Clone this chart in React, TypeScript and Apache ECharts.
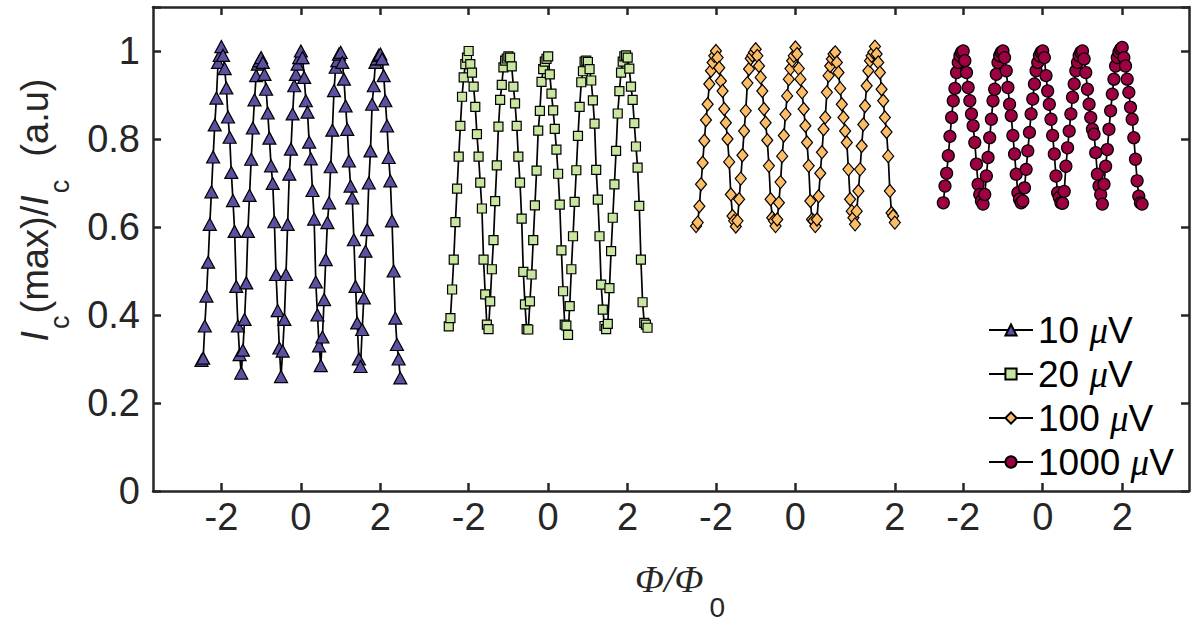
import React, { useEffect, useRef } from 'react';
import * as echarts from 'echarts';

// ---- data ----
const seriesNames = ['10 μV', '20 μV', '100 μV', '1000 μV'];
const panelOffsets = [0, 6.22, 12.44, 18.66];
const phiStart = -2.5;
const phiStep = 1 / 24;

const ic10 = [
  0.297, 0.302, 0.375, 0.443, 0.52, 0.606, 0.68, 0.759, 0.832, 0.893, 0.974, 0.99, 1.01,
  0.99, 0.96, 0.916, 0.85, 0.804, 0.724, 0.66, 0.59, 0.465, 0.375, 0.31, 0.268,
  0.32, 0.39, 0.473, 0.59, 0.672, 0.754, 0.825, 0.889, 0.944, 0.97, 0.978, 0.985,
  0.974, 0.947, 0.913, 0.859, 0.802, 0.739, 0.699, 0.612, 0.492, 0.41, 0.325, 0.26,
  0.318, 0.39, 0.492, 0.606, 0.72, 0.777, 0.857, 0.921, 0.947, 0.97, 0.985, 1.0,
  0.985, 0.94, 0.887, 0.861, 0.793, 0.755, 0.683, 0.618, 0.475, 0.4, 0.33, 0.285,
  0.35, 0.435, 0.526, 0.61, 0.655, 0.737, 0.82, 0.91, 0.963, 0.978, 0.993, 0.997,
  0.974, 0.936, 0.875, 0.822, 0.75, 0.693, 0.666, 0.571, 0.465, 0.382, 0.3, 0.283,
  0.367, 0.439, 0.545, 0.594, 0.7, 0.773, 0.879, 0.921, 0.974, 0.982, 0.99, 0.993,
  0.982, 0.944, 0.887, 0.83, 0.758, 0.705, 0.614, 0.5, 0.393, 0.333, 0.3, 0.257,
];

const ic20 = [
  0.374, 0.393, 0.458, 0.526, 0.611, 0.687, 0.76, 0.83, 0.896, 0.94, 0.97, 0.985, 1.0,
  0.97, 0.951, 0.919, 0.873, 0.811, 0.76, 0.701, 0.642, 0.526, 0.447, 0.378, 0.368,
  0.431, 0.504, 0.57, 0.659, 0.74, 0.828, 0.889, 0.923, 0.963, 0.978, 0.983, 0.988,
  0.985, 0.965, 0.919, 0.881, 0.83, 0.76, 0.701, 0.619, 0.498, 0.424, 0.368, 0.367,
  0.431, 0.492, 0.57, 0.649, 0.728, 0.819, 0.864, 0.93, 0.959, 0.976, 0.982, 0.988,
  0.947, 0.903, 0.865, 0.823, 0.776, 0.721, 0.651, 0.547, 0.454, 0.378, 0.376, 0.355,
  0.42, 0.504, 0.579, 0.657, 0.729, 0.807, 0.873, 0.929, 0.954, 0.976, 0.978, 0.975,
  0.959, 0.933, 0.888, 0.835, 0.73, 0.662, 0.579, 0.469, 0.412, 0.375, 0.368, 0.38,
  0.461, 0.545, 0.621, 0.697, 0.773, 0.858, 0.909, 0.951, 0.976, 0.988, 0.99, 0.985,
  0.96, 0.919, 0.889, 0.836, 0.783, 0.735, 0.648, 0.526, 0.429, 0.382, 0.378, 0.371,
];

const ic100 = [
  0.602, 0.61, 0.647, 0.697, 0.746, 0.796, 0.843, 0.879, 0.925, 0.955, 0.974, 0.989, 1.0,
  0.985, 0.962, 0.932, 0.909, 0.868, 0.837, 0.8, 0.748, 0.674, 0.625, 0.614, 0.601,
  0.614, 0.663, 0.71, 0.763, 0.818, 0.864, 0.927, 0.959, 0.983, 0.99, 0.997, 1.004,
  0.989, 0.966, 0.94, 0.909, 0.868, 0.837, 0.797, 0.739, 0.663, 0.621, 0.614, 0.602,
  0.617, 0.655, 0.702, 0.761, 0.808, 0.856, 0.898, 0.936, 0.96, 0.978, 0.989, 1.008,
  0.993, 0.96, 0.936, 0.906, 0.868, 0.83, 0.792, 0.739, 0.659, 0.617, 0.614, 0.602,
  0.617, 0.67, 0.722, 0.77, 0.822, 0.849, 0.906, 0.944, 0.966, 0.982, 0.993, 0.997,
  0.974, 0.951, 0.915, 0.879, 0.849, 0.818, 0.792, 0.731, 0.663, 0.636, 0.621, 0.606,
  0.636, 0.682, 0.731, 0.784, 0.833, 0.875, 0.921, 0.955, 0.978, 0.989, 0.997, 1.01,
  0.993, 0.974, 0.951, 0.913, 0.887, 0.849, 0.816, 0.761, 0.682, 0.632, 0.625, 0.61,
];

const ic1000 = [
  0.655, 0.693, 0.722, 0.762, 0.806, 0.849, 0.887, 0.915, 0.951, 0.974, 0.989, 0.997, 1.0,
  0.978, 0.951, 0.917, 0.887, 0.857, 0.83, 0.792, 0.743, 0.697, 0.674, 0.659, 0.652,
  0.674, 0.716, 0.758, 0.803, 0.845, 0.887, 0.913, 0.947, 0.974, 0.989, 0.997, 1.0,
  0.985, 0.955, 0.917, 0.879, 0.853, 0.808, 0.766, 0.72, 0.678, 0.663, 0.655, 0.659,
  0.689, 0.731, 0.773, 0.815, 0.857, 0.891, 0.925, 0.955, 0.974, 0.989, 0.997, 1.0,
  0.985, 0.944, 0.909, 0.879, 0.845, 0.808, 0.766, 0.716, 0.678, 0.667, 0.655, 0.654,
  0.681, 0.738, 0.78, 0.818, 0.857, 0.895, 0.925, 0.955, 0.974, 0.989, 0.997, 1.0,
  0.982, 0.951, 0.913, 0.879, 0.849, 0.822, 0.811, 0.769, 0.72, 0.693, 0.674, 0.652,
  0.697, 0.738, 0.776, 0.822, 0.864, 0.902, 0.936, 0.966, 0.985, 0.997, 1.004, 1.008,
  0.985, 0.966, 0.936, 0.906, 0.872, 0.845, 0.803, 0.754, 0.705, 0.67, 0.655, 0.652,
];

const seriesValues = [ic10, ic20, ic100, ic1000];

// tick positions (local flux units within each panel) and their labels
const tickLocal = [
  [-2, 0, 2],
  [-2, 0, 2],
  [-2, 0, 2.5],
  [-2, 0, 2],
];
const tickText = ['-2', '0', '2'];
const yTickLabels = ['0', '0.2', '0.4', '0.6', '0.8', '1'];

// ---- styles ----
const markerSymbols = ['triangle', 'rect', 'diamond', 'circle'];
const markerSizes: any[] = [[13, 12], [9, 9], [11, 13], [12, 12]];
const markerColors = ['#5e4fa2', '#c8e6a0', '#fdbd67', '#9e0142'];
const AX = '#262626';
const SANS = 'Liberation Sans';

export default function App() {
  const ref = useRef<HTMLDivElement>(null);

  useEffect(() => {
    if (!ref.current) return;
    const chart = echarts.init(ref.current, null, { renderer: 'svg' });

    const xMin = -3.72;
    const xMax = 22.34;
    const tickValues: number[] = [];
    const labelMap = new Map<string, string>();
    panelOffsets.forEach((o, k) => {
      tickLocal[k].forEach((t, j) => {
        const v = +(o + t).toFixed(3);
        tickValues.push(v);
        labelMap.set(v.toFixed(3), tickText[j]);
      });
    });

    const series = seriesValues.map((vals, k) => ({
      name: seriesNames[k],
      type: 'line',
      xAxisIndex: 0,
      yAxisIndex: 0,
      data: vals.map((v, i) => [panelOffsets[k] + phiStart + i * phiStep, v]),
      symbol: markerSymbols[k],
      symbolSize: markerSizes[k],
      itemStyle: { color: markerColors[k], borderColor: '#000', borderWidth: 1.2 },
      lineStyle: { color: '#000', width: 1.7 },
      emphasis: { disabled: true },
      clip: false,
    }));

    const tickLine = { color: AX, width: 2.5 };

    chart.setOption({
      animation: false,
      backgroundColor: '#fff',
      grid: { left: 153, right: 2, top: 7, bottom: 133, containLabel: false },
      xAxis: [
        {
          type: 'value',
          position: 'bottom',
          min: xMin,
          max: xMax,
          axisLine: { show: true, onZero: false, lineStyle: tickLine },
          axisTick: { show: true, inside: true, length: 8, customValues: tickValues, lineStyle: tickLine },
          axisLabel: {
            show: true,
            customValues: tickValues,
            formatter: (v: number) => labelMap.get((+v).toFixed(3)) ?? '',
            fontSize: 38,
            fontFamily: SANS,
            color: AX,
            margin: 7,
          },
          splitLine: { show: false },
        },
        {
          type: 'value',
          position: 'top',
          min: xMin,
          max: xMax,
          axisLine: { show: true, onZero: false, lineStyle: tickLine },
          axisTick: { show: true, inside: true, length: 8, customValues: tickValues, lineStyle: tickLine },
          axisLabel: { show: false },
          splitLine: { show: false },
        },
      ],
      yAxis: [
        {
          type: 'value',
          position: 'left',
          min: 0,
          max: 1.1,
          interval: 0.2,
          axisLine: { show: true, onZero: false, lineStyle: tickLine },
          axisTick: { show: true, inside: true, length: 8, lineStyle: tickLine },
          axisLabel: {
            fontSize: 38,
            fontFamily: SANS,
            color: AX,
            margin: 13,
            formatter: (v: number) => {
              const idx = Math.round(v / 0.2);
              return v > 1.05 ? '' : yTickLabels[idx] ?? '';
            },
          },
          splitLine: { show: false },
        },
        {
          type: 'value',
          position: 'right',
          min: 0,
          max: 1.1,
          interval: 0.2,
          axisLine: { show: true, onZero: false, lineStyle: tickLine },
          axisTick: { show: true, inside: true, length: 8, lineStyle: tickLine },
          axisLabel: { show: false },
          splitLine: { show: false },
        },
      ],
      legend: {
        data: seriesNames,
        orient: 'vertical',
        left: 983,
        top: 305,
        itemWidth: 44,
        itemHeight: 14,
        itemGap: 4,
        backgroundColor: 'transparent',
        formatter: (name: string) => {
          const num = name.split(' ')[0];
          return `{n|${num} }{mu|μ}{n|V}`;
        },
        textStyle: {
          fontSize: 37,
          fontFamily: SANS,
          color: '#000',
          lineHeight: 40,
          rich: {
            n: { fontSize: 37, fontFamily: SANS, color: '#000', lineHeight: 40 },
            mu: { fontSize: 37, fontFamily: 'Liberation Serif', fontStyle: 'italic', color: '#000', lineHeight: 40 },
          },
        },
      },
      graphic: [
        {
          type: 'text',
          x: 37,
          y: 210,
          rotation: Math.PI / 2,
          style: {
            text: '{i|I}{s|c}{n|(max)/}{i|I}{s|c}{n|  (a.u)}',
            align: 'center',
            verticalAlign: 'middle',
            rich: {
              i: { fontSize: 38, fontFamily: SANS, fontStyle: 'italic', fill: AX, lineHeight: 42, verticalAlign: 'top' },
              n: { fontSize: 38, fontFamily: SANS, fill: AX, lineHeight: 42, verticalAlign: 'top' },
              s: { fontSize: 27, fontFamily: SANS, fill: AX, lineHeight: 28, verticalAlign: 'top', padding: [30, 2, 0, 2] },
            },
          },
        },
        {
          type: 'text',
          x: 680,
          y: 560,
          style: {
            text: '{p|Φ/Φ}{s|0}',
            align: 'center',
            verticalAlign: 'top',
            rich: {
              p: { fontSize: 38, fontFamily: 'Liberation Serif', fontStyle: 'italic', fill: AX, lineHeight: 40, verticalAlign: 'top' },
              s: { fontSize: 28, fontFamily: SANS, fill: AX, lineHeight: 28, verticalAlign: 'top', padding: [33, 0, 0, 6] },
            },
          },
        },
      ],
      series,
    });

    return () => chart.dispose();
  }, []);

  return (
    <div
      ref={ref}
      style={{ position: 'absolute', left: 0, top: 0, width: 1191, height: 624, background: '#fff' }}
    />
  );
}
